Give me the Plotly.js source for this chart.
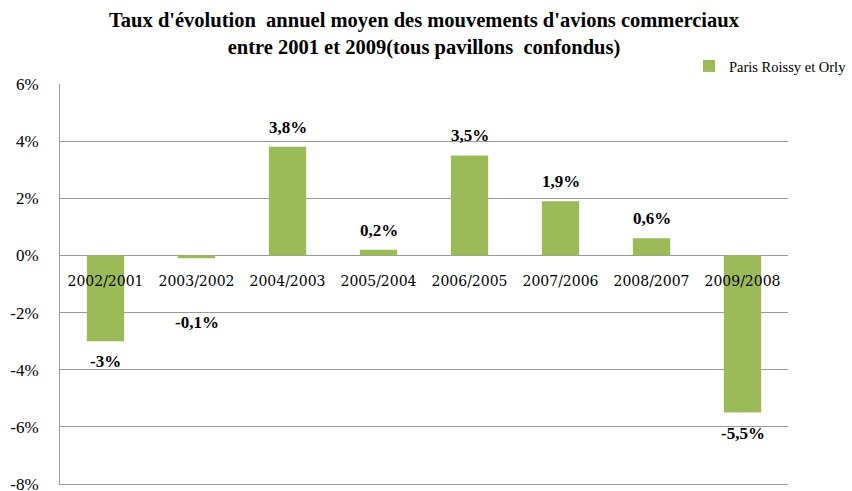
<!DOCTYPE html>
<html><head><meta charset="utf-8">
<script src="https://cdn.plot.ly/plotly-3.0.1.min.js"></script>
<style>body{margin:0;background:#fff}#c{width:852px;height:491px}</style>
</head><body><div id="c"></div>
<script>
const categories = ["2002/2001","2003/2002","2004/2003","2005/2004","2006/2005","2007/2006","2008/2007","2009/2008"];
const values = [-3, -0.1, 3.8, 0.2, 3.5, 1.9, 0.6, -5.5];
const seriesName = "Paris Roissy et Orly";
const yTicks = [-8,-6,-4,-2,0,2,4,6];
const yTickText = ["-8%","-6%","-4%","-2%","0%","2%","4%","6%"];

const FONT = "'Liberation Serif', serif";
const TICKFONT = "'DejaVu Serif', serif";
const fmt = v => String(v).replace('.', ',') + '%';

const annotations = values.map((v,i) => {
  const pos = v >= 0;
  const tiny = !pos && v > -1;
  return {
    x: categories[i], xref: 'x', yref: 'y',
    y: pos ? v : (tiny ? -2 : v),
    yanchor: pos ? 'bottom' : (tiny ? 'middle' : 'top'),
    yshift: pos ? 8 : (tiny ? -10 : -9),
    text: '<b>' + fmt(v) + '</b>', showarrow: false,
    font: {family: FONT, size: 17, color: '#000'}
  };
});

const trace = {
  type: 'bar', x: categories, y: values, name: seriesName,
  marker: {color: '#9BBB59'}, showlegend: true
};

const layout = {
  width: 852, height: 491,
  margin: {l: 60, r: 64, t: 84, b: 7, autoexpand: false},
  paper_bgcolor: '#fff', plot_bgcolor: '#fff',
  bargap: 0.59,
  title: {
    text: "<b>Taux d'évolution  annuel moyen des mouvements d'avions commerciaux<br>entre 2001 et 2009(tous pavillons  confondus)</b>",
    font: {family: FONT, size: 20.5, color: '#000'},
    x: 0.5, xanchor: 'center', xref: 'paper', y: 0.945, yanchor: 'middle'
  },
  showlegend: true,
  legend: {x: 0.864, xanchor: 'left', y: 1.045, yanchor: 'middle', itemwidth: 30,
    font: {family: FONT, size: 14.5, color: '#000'}, bgcolor: 'rgba(0,0,0,0)'},
  xaxis: {
    type: 'category', anchor: 'free', position: 8/14,
    showline: false, showgrid: false, ticks: '', automargin: false,
    tickfont: {family: TICKFONT, size: 14, color: '#000'}, ticklabelstandoff: 16
  },
  xaxis2: {
    overlaying: 'x', anchor: 'y', side: 'bottom', matches: 'x',
    showline: true, linecolor: '#9a9a9a', linewidth: 1,
    showgrid: false, showticklabels: false, ticks: '', automargin: false
  },
  yaxis: {
    range: [-8, 6], tickvals: yTicks, ticktext: yTickText,
    showgrid: true, gridcolor: '#9a9a9a', gridwidth: 1,
    zeroline: true, zerolinecolor: '#9a9a9a', zerolinewidth: 1,
    showline: true, linecolor: '#9a9a9a', linewidth: 1,
    ticks: '', ticklabelstandoff: 17, automargin: false, ticklabeloverflow: 'allow',
    tickfont: {family: FONT, size: 17, color: '#000'}
  },
  annotations: annotations
};
Plotly.newPlot('c', [trace, {type: 'bar', x: [], y: [], xaxis: 'x2', showlegend: false, hoverinfo: 'skip'}], layout, {displayModeBar: false});
</script></body></html>
